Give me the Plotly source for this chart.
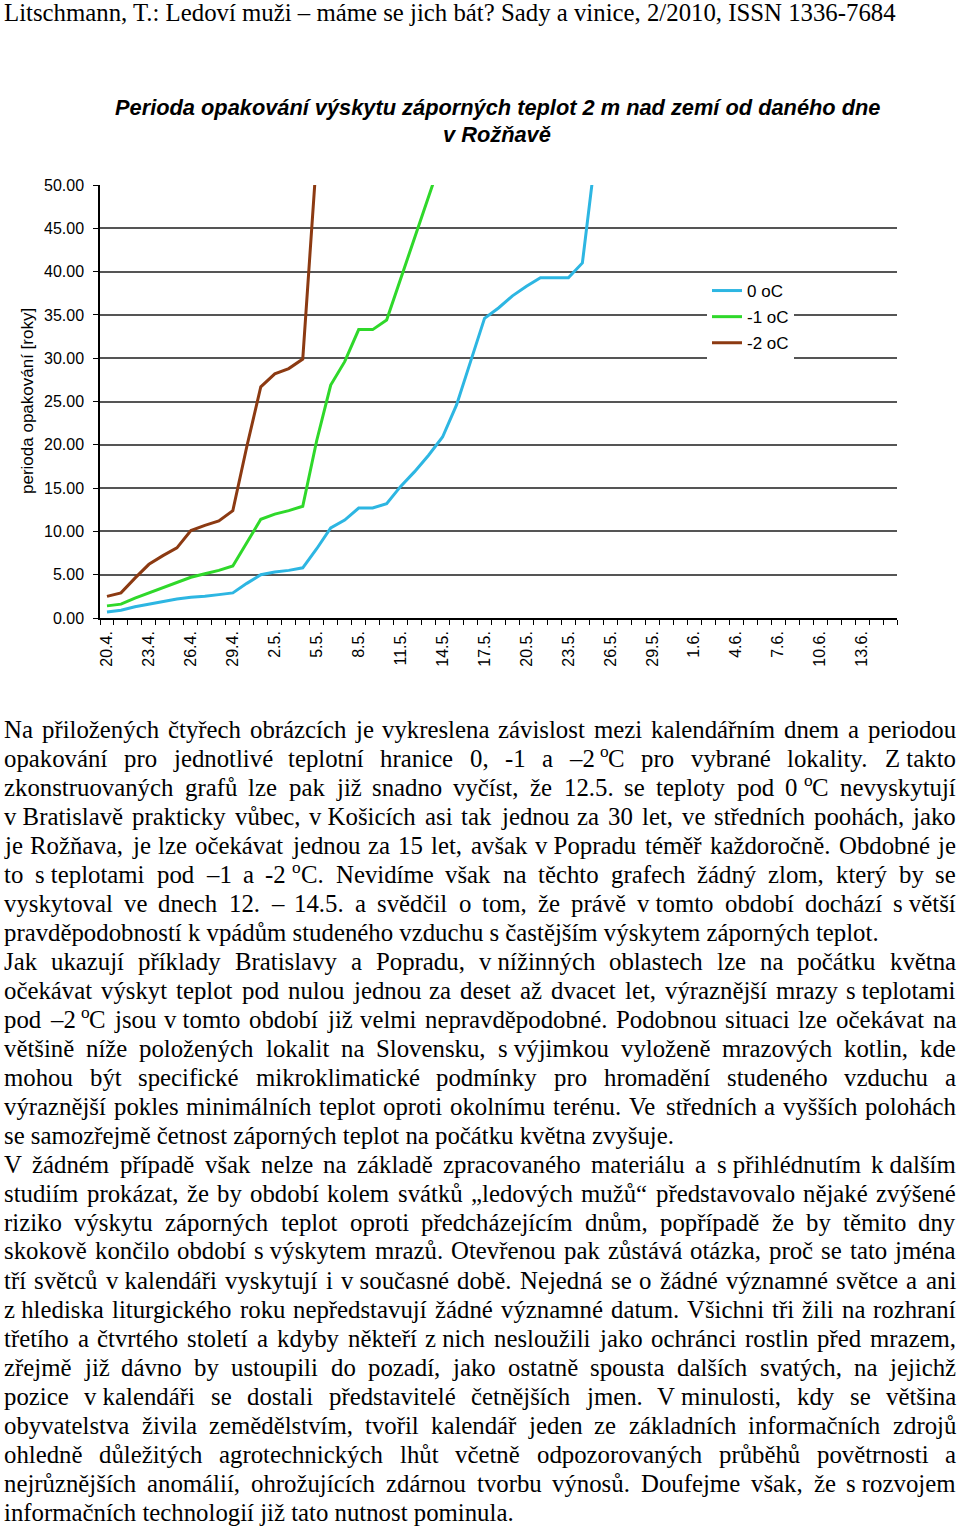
import unicodedata
import plotly.graph_objects as go

# ---------------- data ----------------
categories = [
    "20.4.", "21.4.", "22.4.", "23.4.", "24.4.", "25.4.", "26.4.", "27.4.", "28.4.", "29.4.", "30.4.",
    "1.5.", "2.5.", "3.5.", "4.5.", "5.5.", "6.5.", "7.5.", "8.5.", "9.5.", "10.5.",
    "11.5.", "12.5.", "13.5.", "14.5.", "15.5.", "16.5.", "17.5.", "18.5.", "19.5.", "20.5.",
    "21.5.", "22.5.", "23.5.", "24.5.", "25.5.", "26.5.", "27.5.", "28.5.", "29.5.", "30.5.", "31.5.",
    "1.6.", "2.6.", "3.6.", "4.6.", "5.6.", "6.6.", "7.6.", "8.6.", "9.6.", "10.6.",
    "11.6.", "12.6.", "13.6.", "14.6.", "15.6.",
]
tick_labels = ["20.4.", "23.4.", "26.4.", "29.4.", "2.5.", "5.5.", "8.5.", "11.5.", "14.5.", "17.5.",
               "20.5.", "23.5.", "26.5.", "29.5.", "1.6.", "4.6.", "7.6.", "10.6.", "13.6."]

series_names = ["0 oC", "-1 oC", "-2 oC"]
values_0C = [0.7, 0.9, 1.3, 1.6, 1.9, 2.2, 2.4, 2.5, 2.7, 2.9, 4.0, 5.0, 5.3, 5.5, 5.8, 8.0,
             10.4, 11.3, 12.7, 12.7, 13.2, 15.2, 16.9, 18.8, 20.9, 24.6, 29.6, 34.6, 35.8,
             37.2, 38.3, 39.3, 39.3, 39.3, 41.0, 54.3]
values_m1C = [1.4, 1.6, 2.3, 2.9, 3.5, 4.1, 4.7, 5.1, 5.5, 6.0, 8.7, 11.4, 12.0, 12.4, 12.9,
              20.5, 26.9, 29.6, 33.3, 33.3, 34.4, 39.1, 43.9, 48.6, 53.4]
values_m2C = [2.5, 2.9, 4.6, 6.2, 7.2, 8.1, 10.1, 10.7, 11.2, 12.4, 19.8, 26.7, 28.2, 28.8,
              29.9, 53.4]
series_colors = ["#2DB6E2", "#2FD82A", "#8C3A12"]

chart_title = ["Perioda opakování výskytu záporných teplot 2 m nad zemí od daného dne",
               "v Rožňavě"]
y_title = "perioda opakování [roky]"

header_text = "Litschmann, T.: Ledoví muži – máme se jich bát? Sady a vinice, 2/2010, ISSN 1336-7684"

# '~' = non-breaking space, '^o' = superscript o
body_lines = [
    "Na přiložených čtyřech  obrázcích je vykreslena závislost mezi kalendářním dnem a periodou",
    "opakování pro jednotlivé teplotní hranice 0, -1 a –2~^oC pro vybrané lokality.  Z~takto",
    "zkonstruovaných grafů lze pak již snadno vyčíst, že 12.5. se teploty pod 0~^oC nevyskytují",
    "v~Bratislavě prakticky vůbec, v~Košicích asi tak jednou za 30 let, ve středních poohách, jako",
    "je Rožňava, je lze očekávat jednou za 15 let, avšak v~Popradu téměř každoročně.  Obdobné je",
    "to s~teplotami  pod –1 a -2~^oC. Nevidíme však na těchto grafech žádný zlom, který by se",
    "vyskytoval ve dnech 12. – 14.5. a svědčil o tom, že právě v~tomto období dochází s~větší",
    "pravděpodobností k~vpádům studeného vzduchu s~častějším výskytem záporných teplot.",
    "Jak ukazují příklady Bratislavy a Popradu, v~nížinných oblastech lze na počátku května",
    "očekávat výskyt teplot pod nulou jednou za deset až dvacet let, výraznější mrazy s~teplotami",
    "pod –2~^oC jsou v~tomto období již velmi nepravděpodobné. Podobnou situaci lze očekávat na",
    "většině níže položených lokalit na Slovensku, s~výjimkou vyloženě mrazových kotlin, kde",
    "mohou být specifické mikroklimatické podmínky pro hromadění studeného vzduchu a",
    "výraznější pokles minimálních teplot oproti okolnímu terénu. Ve středních a vyšších polohách",
    "se samozřejmě četnost záporných teplot na počátku května zvyšuje.",
    "V žádném případě však nelze na základě zpracovaného materiálu a s~přihlédnutím k~dalším",
    "studiím prokázat, že by období kolem svátků „ledových mužů“ představovalo nějaké zvýšené",
    "riziko výskytu záporných teplot oproti předcházejícím dnům, popřípadě že by těmito dny",
    "skokově končilo období s~výskytem mrazů.  Otevřenou pak zůstává otázka, proč se tato jména",
    "tří světců v~kalendáři vyskytují i v~současné době. Nejedná se o žádné významné světce a ani",
    "z~hlediska liturgického roku nepředstavují žádné významné datum. Všichni tři žili na rozhraní",
    "třetího a čtvrtého století a kdyby někteří z~nich nesloužili jako ochránci rostlin před mrazem,",
    "zřejmě již dávno by ustoupili do pozadí, jako ostatně spousta dalších svatých, na jejichž",
    "pozice  v~kalendáři  se  dostali  představitelé  četnějších  jmen.  V~minulosti,  kdy  se  většina",
    "obyvatelstva živila zemědělstvím,  tvořil kalendář jeden ze základních informačních zdrojů",
    "ohledně důležitých agrotechnických lhůt včetně odpozorovaných průběhů povětrnosti a",
    "nejrůznějších anomálií, ohrožujících zdárnou tvorbu výnosů.  Doufejme však, že s~rozvojem",
    "informačních technologií již tato nutnost pominula.",
]
paragraph_ends = [7, 14, 27]

# ---------------- geometry helpers ----------------
PL, PR, PT, PB = 100, 897, 185, 618  # plot area in page pixels
W, H = 960, 1529


def fx(px):
    return (px - PL) / (PR - PL)


def fy(py):
    return (PB - py) / (PB - PT)


# Times-compatible advance widths (per 1000 em)
TW = {' ': 250, 'a': 444, 'b': 500, 'c': 444, 'd': 500, 'e': 444, 'f': 333, 'g': 500, 'h': 500,
      'i': 278, 'j': 278, 'k': 500, 'l': 278, 'm': 778, 'n': 500, 'o': 500, 'p': 500, 'q': 500,
      'r': 333, 's': 389, 't': 278, 'u': 500, 'v': 500, 'w': 722, 'x': 500, 'y': 500, 'z': 444,
      'A': 722, 'B': 667, 'C': 667, 'D': 722, 'E': 611, 'F': 556, 'G': 722, 'H': 722, 'I': 333,
      'J': 389, 'K': 722, 'L': 611, 'M': 889, 'N': 722, 'O': 722, 'P': 556, 'Q': 722, 'R': 667,
      'S': 556, 'T': 611, 'U': 722, 'V': 722, 'W': 944, 'X': 722, 'Y': 722, 'Z': 611,
      '.': 250, ',': 250, ':': 278, ';': 278, '?': 444, '-': 333, '–': 500, '„': 444, '“': 444,
      '/': 278, '[': 333, ']': 333, '(': 333, ')': 333}

FS = 24.8
SUP = 0.7
SERIF = "Liberation Serif"
SANS = "Liberation Sans"


def cw(ch):
    if ch.isdigit():
        return 500
    if ch in TW:
        return TW[ch]
    base = unicodedata.normalize('NFD', ch)[0]
    return TW.get(base, 500)


def word_segments(word):
    """Split a word into (text, is_superscript, width_px) segments."""
    segs, cur, cur_w, i = [], "", 0.0, 0
    while i < len(word):
        ch = word[i]
        if ch == '^' and i + 1 < len(word):
            if cur:
                segs.append((cur, False, cur_w * FS / 1000))
                cur, cur_w = "", 0.0
            s = word[i + 1]
            segs.append((s, True, cw(s) * SUP * FS / 1000))
            i += 2
            continue
        if ch == '~':
            cur += "\u00a0"
            cur_w += 250
        else:
            cur += ch
            cur_w += cw(ch)
        i += 1
    if cur:
        segs.append((cur, False, cur_w * FS / 1000))
    return segs


annotations = []


def add_text(text, px, py, xanchor="left", size=FS, family=SERIF, **kw):
    annotations.append(dict(text=text, x=fx(px), y=fy(py), xref="paper", yref="paper",
                            xanchor=xanchor, yanchor="middle", showarrow=False,
                            borderpad=0, borderwidth=0,
                            font=dict(family=family, size=size, color="black", **kw.pop("font", {})),
                            **kw))


def add_word(segs, px, py):
    x = px
    for text, sup, w in segs:
        if sup:
            add_text(text, x, py - 7, size=FS * SUP)
        else:
            add_text(text, x, py)
        x += w


# header
add_text(header_text, 4, 12)

# body text (justified)
LX, RX = 4, 956
Y0, DY = 729, 29.0
for k, line in enumerate(body_lines):
    y = Y0 + DY * k
    words = [word_segments(w) for w in line.split()]
    widths = [sum(s[2] for s in segs) for segs in words]
    if k in paragraph_ends:
        if all(len(s) == 1 and not s[0][1] for s in words):
            add_text(" ".join(s[0][0] for s in words), LX, y)
            continue
        gap = 0.25 * FS
    else:
        gap = (RX - LX - sum(widths)) / (len(words) - 1)
    x = LX
    for i, segs in enumerate(words):
        if i == len(words) - 1 and k not in paragraph_ends and len(segs) == 1 and not segs[0][1]:
            add_text(segs[0][0], RX, y, xanchor="right")
        else:
            add_word(segs, x, y)
        x += widths[i] + gap

# chart title
add_text(chart_title[0], 497, 107, xanchor="center", size=21.8, family=SANS,
         font=dict(weight="bold", style="italic"))
add_text(chart_title[1], 497, 134, xanchor="center", size=21.8, family=SANS,
         font=dict(weight="bold", style="italic"))
# y axis title
add_text(y_title, 27, 401, xanchor="center", size=17, family=SANS, textangle=-90)

# ---------------- figure ----------------
fig = go.Figure()
for name, vals, color in zip(series_names, [values_0C, values_m1C, values_m2C], series_colors):
    fig.add_trace(go.Scatter(x=categories[:len(vals)], y=vals, mode="lines", name=name,
                             legendgroup=name, line=dict(color=color, width=3)))

ticktext = [c if c in tick_labels else "" for c in categories]

fig.update_layout(
    width=W, height=H,
    margin=dict(l=PL, r=W - PR, t=PT, b=H - PB, pad=0),
    paper_bgcolor="white", plot_bgcolor="white",
    showlegend=True,
    legend=dict(x=fx(707), y=fy(273), xanchor="left", yanchor="top", bgcolor="white",
                font=dict(family=SANS, size=17, color="black"),
                traceorder="grouped", tracegroupgap=1, itemwidth=30),
    xaxis=dict(type="category", categoryorder="array", categoryarray=categories,
               range=[-0.5, len(categories) - 0.5],
               tickmode="array", tickvals=categories, ticktext=ticktext,
               tickson="boundaries", ticks="outside", ticklen=5, tickwidth=1, tickcolor="black",
               tickangle=-90, ticklabelstandoff=5,
               tickfont=dict(family=SANS, size=16, color="black"),
               showline=True, linecolor="black", linewidth=1.5,
               showgrid=False, zeroline=False),
    yaxis=dict(range=[0, 50], tick0=0, dtick=5, tickformat=".2f",
               ticks="outside", ticklen=5, tickwidth=1, tickcolor="black", ticklabelstandoff=6,
               tickfont=dict(family=SANS, size=16, color="black"),
               showline=True, linecolor="black", linewidth=1.5,
               showgrid=True, gridcolor="#555555", gridwidth=1.5, zeroline=False),
    annotations=annotations,
)

fig.write_html("out.html")
